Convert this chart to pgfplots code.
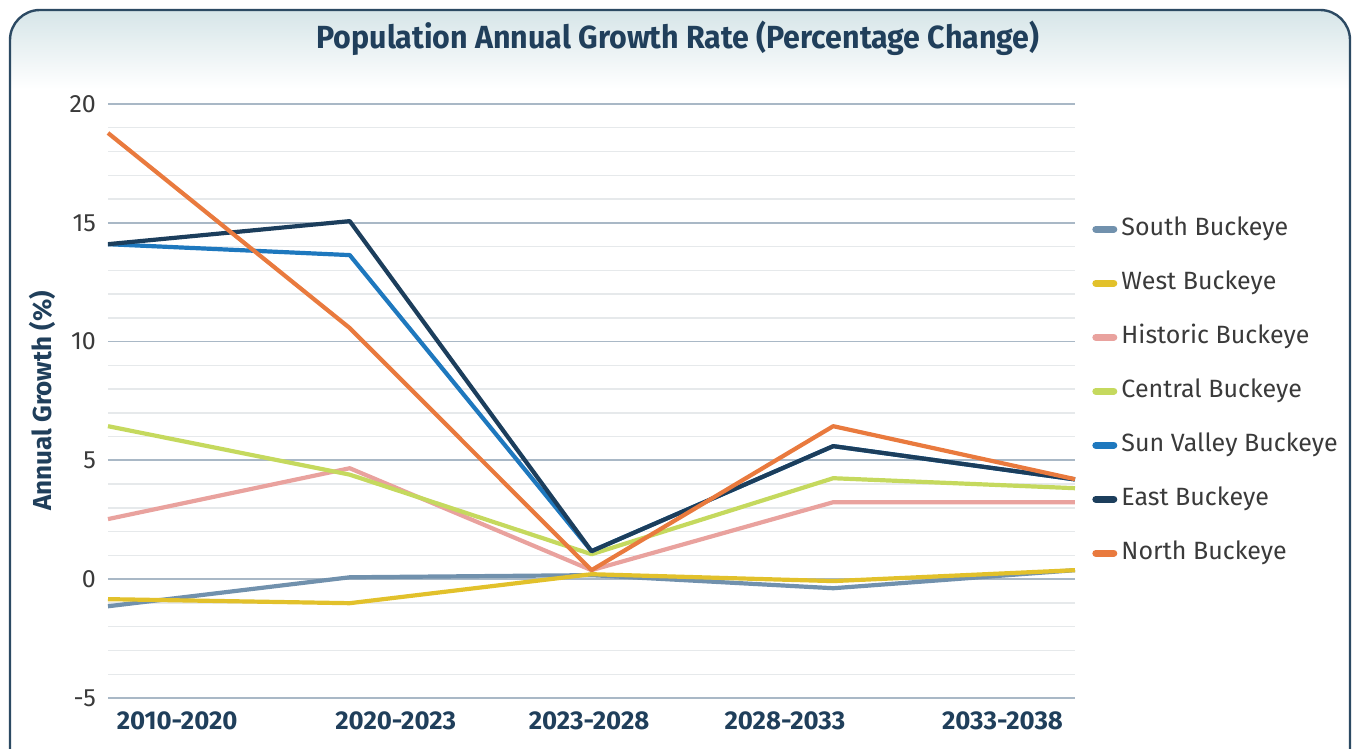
\documentclass[border=0pt]{standalone}
\usepackage{pgfplots}
\pgfplotsset{compat=1.18}
\usepackage{fontspec}
\setmainfont{Fira Sans}
\definecolor{cSouth}{HTML}{7191AD}
\definecolor{cWest}{HTML}{E2C12B}
\definecolor{cHist}{HTML}{E9A29E}
\definecolor{cCent}{HTML}{C5D95E}
\definecolor{cSun}{HTML}{1E78BE}
\definecolor{cEast}{HTML}{1C3E5C}
\definecolor{cNorth}{HTML}{E97A3E}
\definecolor{gMaj}{HTML}{A9B8C6}
\definecolor{gMin}{HTML}{E6E9EB}
\definecolor{navy}{HTML}{203F5B}
\definecolor{frame}{HTML}{2C4A63}
\definecolor{head}{HTML}{D6E5E8}
\definecolor{txt}{HTML}{3A3A3A}
\pgfplotstableread{
x South West Hist Cent Sun East North
0 -1.14 -0.84 2.53 6.44 14.10 14.10 18.78
1 0.08 -1.01 4.67 4.40 13.64 15.07 10.57
2 0.17 0.21 0.38 1.05 1.18 1.18 0.38
3 -0.38 -0.08 3.24 4.25 5.60 5.60 6.44
4 0.38 0.38 3.24 3.83 4.20 4.20 4.21
}\data
\begin{document}
\begin{tikzpicture}
\useasboundingbox (0,0) rectangle (678pt,374.5pt);
\begin{scope}
\clip (0,0) rectangle (678pt,374.5pt);
\begin{scope}
\clip[rounded corners=15pt] (5pt,-20pt) -- (5pt,369.5pt) -- (675pt,369.5pt) -- (675pt,-20pt) -- cycle;
\shade[top color=head, bottom color=white] (5pt,330pt) rectangle (675pt,369.5pt);
\end{scope}
\draw[frame, line width=1.2pt, rounded corners=15pt] (5pt,-20pt) -- (5pt,369.5pt) -- (675pt,369.5pt) -- (675pt,-20pt);
\end{scope}
\node[font=\bfseries\fontsize{16}{18}\selectfont, text=navy] at (339pt,355.5pt) {\scalebox{0.95}[1]{Population Annual Growth Rate (Percentage Change)}};
\begin{axis}[
  at={(54pt,25.5pt)}, anchor=south west,
  width=483.5pt, height=297pt, scale only axis,
  xmin=0, xmax=4, ymin=-5, ymax=20,
  axis line style={draw=none},
  ytick={-5,0,5,10,15,20},
  minor ytick={-4,-3,-2,-1,1,2,3,4,6,7,8,9,11,12,13,14,16,17,18,19},
  ymajorgrids, yminorgrids,
  major grid style={gMaj, line width=0.9pt},
  minor grid style={gMin, line width=0.7pt},
  xtick={0.286,1.19,1.99,2.80,3.70},
  xticklabels={2010-2020,2020-2023,2023-2028,2028-2033,2033-2038},
  xticklabel style={font=\bfseries\fontsize{12.9}{14}\selectfont, text=navy, yshift=-3.5pt},
  yticklabel style={font=\fontsize{12.5}{14}\selectfont, text=txt, xshift=-2.5pt},
  /pgf/number format/assume math mode=true,
  major tick length=0pt, minor tick length=0pt,
  tick style={draw=none},
  ylabel={Annual Growth (\%)},
  every axis y label/.style={at={(axis description cs:-0.068,0.5)}, rotate=90, anchor=center, font=\bfseries\fontsize{13}{15}\selectfont, text=navy},
  legend cell align=left,
  legend style={at={(rel axis cs:1.0175,0.81)}, anchor=north west, draw=none, fill=none,
    font=\fontsize{12.5}{14}\selectfont, text=txt, row sep=15pt, inner sep=0pt,
    nodes={inner sep=0pt, text height=9pt, text depth=3pt}},
  legend image code/.code={\draw[#1, line width=3.5pt, line cap=round] (0pt,0pt) -- (9pt,0pt);},
  every axis plot/.append style={line width=2.1pt, line join=round},
  clip=false,
]
\addplot[cSouth] table[x=x,y=South] {\data};
\addlegendentry{\,South Buckeye}
\addplot[cWest] table[x=x,y=West] {\data};
\addlegendentry{\,West Buckeye}
\addplot[cHist] table[x=x,y=Hist] {\data};
\addlegendentry{\,Historic Buckeye}
\addplot[cCent] table[x=x,y=Cent] {\data};
\addlegendentry{\,Central Buckeye}
\addplot[cSun] table[x=x,y=Sun] {\data};
\addlegendentry{\,Sun Valley Buckeye}
\addplot[cEast] table[x=x,y=East] {\data};
\addlegendentry{\,East Buckeye}
\addplot[cNorth] table[x=x,y=North] {\data};
\addlegendentry{\,North Buckeye}
\end{axis}
\end{tikzpicture}
\end{document}
